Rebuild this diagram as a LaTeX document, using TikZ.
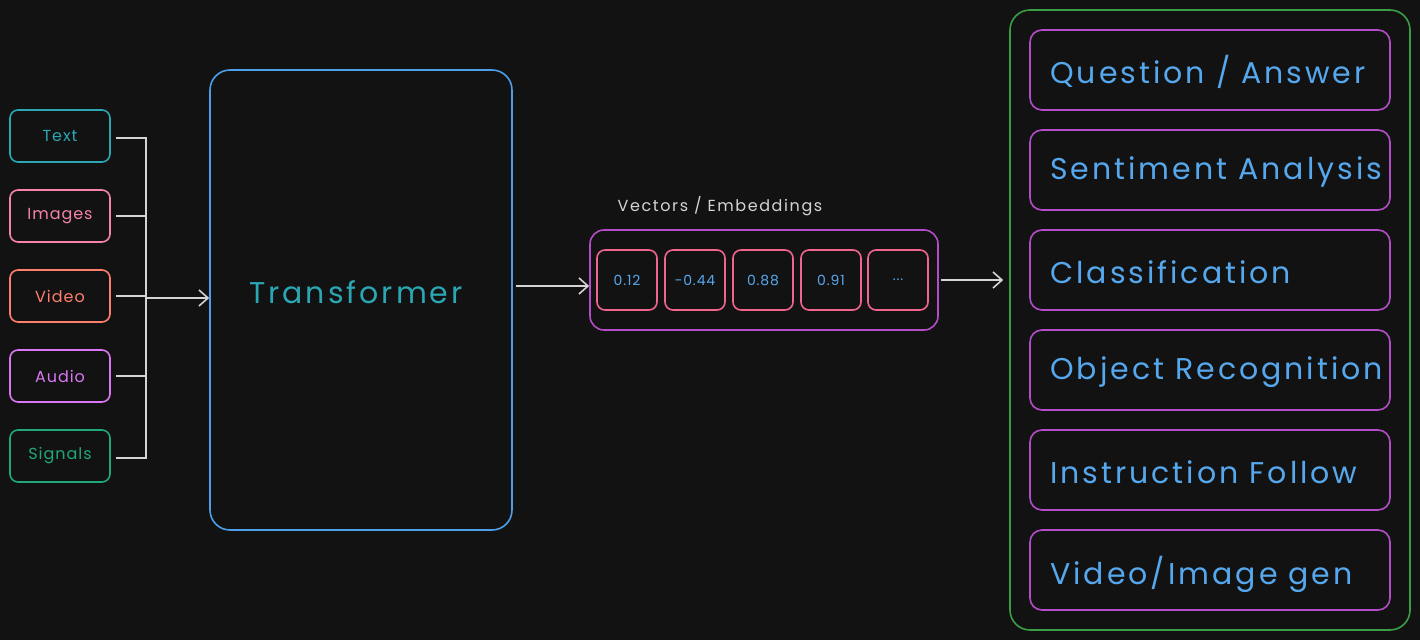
\documentclass[tikz,border=0pt]{standalone}
\usepackage{fontspec}
\setmainfont{Poppins}[LetterSpace=3]
\newfontfamily\widefont{Poppins}[LetterSpace=10]
\newfontfamily\midfont{Poppins}[LetterSpace=6]
\usetikzlibrary{arrows.meta}
\definecolor{bg}{HTML}{121212}
\definecolor{cteal}{HTML}{2AA7B3}
\definecolor{cpink}{HTML}{F783AC}
\definecolor{cred}{HTML}{FF7F6E}
\definecolor{cviolet}{HTML}{DA77F2}
\definecolor{cgreen}{HTML}{20A77A}
\definecolor{cblue}{HTML}{4A9FE8}
\definecolor{cpurple}{HTML}{B54CC8}
\definecolor{cvec}{HTML}{F0648E}
\definecolor{cframe}{HTML}{3A9E44}
\definecolor{cline}{HTML}{D4D4D4}
\definecolor{ctxt}{HTML}{56A8EE}
\tikzset{
  inbox/.style={draw, line width=1.6pt, rounded corners=8pt, minimum width=100pt, minimum height=52pt, inner sep=0pt, font=\midfont\fontsize{16}{18}\selectfont},
  vecbox/.style={draw=cvec, line width=1.6pt, rounded corners=8pt, minimum width=60pt, minimum height=60pt, inner sep=0pt, text=ctxt, font=\midfont\fontsize{14}{16}\selectfont},
  taskbox/.style={draw=cpurple, line width=1.6pt, rounded corners=12pt, minimum width=360pt, minimum height=80pt, inner sep=0pt},
  tasktext/.style={anchor=west, text=ctxt, inner sep=0pt, font=\widefont\fontsize{30}{34}\selectfont},
  conn/.style={draw=cline, line width=1.6pt},
  arr/.style={draw=cline, line width=1.6pt, -{Straight Barb[length=9pt,width=16pt,line width=1.6pt]}}
}
\begin{document}
\begin{tikzpicture}[x=1pt,y=-1pt]
\fill[bg] (0,0) rectangle (1420,640);
\useasboundingbox (0,0) rectangle (1420,640);
% inputs
\node[inbox, draw=cteal, text=cteal] (text) at (60,136) {Text};
\node[inbox, draw=cpink, text=cpink] (images) at (60,216) {Images};
\node[inbox, draw=cred, text=cred] (video) at (60,296) {Video};
\node[inbox, draw=cviolet, text=cviolet] (audio) at (60,376) {Audio};
\node[inbox, draw=cgreen, text=cgreen] (signals) at (60,456) {Signals};
% transformer
\node[draw=cblue, line width=1.6pt, rounded corners=20pt, minimum width=302pt, minimum height=460pt] (tr) at (361,300) {};
\node[text=cteal, font=\widefont\fontsize{30}{36}\selectfont] (trlabel) at (356,292) {Transformer};
% bus
\coordinate (bt) at (146,138);
\coordinate (bb) at (146,458);
\coordinate (bm) at (146,298);
\draw[conn] ([xshift=5pt]text.east |- bt) -- (bt) -- (bb) -- ([xshift=5pt]signals.east |- bb);
\draw[conn] ([xshift=5pt]images.east) -- (images.east -| bb);
\draw[conn] ([xshift=5pt]video.east) -- (video.east -| bb);
\draw[conn] ([xshift=5pt]audio.east) -- (audio.east -| bb);
\draw[arr] (bm) -- (tr.west |- bm);
% embeddings
\node[text=cline, font=\widefont\fontsize{16}{19}\selectfont] (veclabel) at (720,206) {Vectors / Embeddings};
\node[draw=cpurple, line width=1.6pt, rounded corners=14pt, minimum width=348pt, minimum height=100pt] (emb) at (764,280) {};
\node[vecbox] (v1) at (627,280) {0.12};
\node[vecbox] (v2) at (695,280) {-0.44};
\node[vecbox] (v3) at (763,280) {0.88};
\node[vecbox] (v4) at (831,280) {0.91};
\node[vecbox] (v5) at (898,280) {...};
\coordinate (trout) at (516,286);
\draw[arr] (trout) -- (emb.west |- trout);
% tasks
\node[draw=cframe, line width=1.6pt, rounded corners=20pt, minimum width=400pt, minimum height=620pt] (frame) at (1210,320) {};
\draw[arr] ([xshift=2pt]emb.east) -- ([xshift=-6pt]frame.west |- 0,280);
\node[taskbox] (t1) at (1210,70) {};
\node[taskbox] (t2) at (1210,170) {};
\node[taskbox] (t3) at (1210,270) {};
\node[taskbox] (t4) at (1210,370) {};
\node[taskbox] (t5) at (1210,470) {};
\node[taskbox] (t6) at (1210,570) {};
\node[tasktext] (l1) at (1050,72) {Question / Answer};
\node[tasktext] (l2) at (1050,172) {Sentiment Analysis};
\node[tasktext] (l3) at (1050,272) {Classification};
\node[tasktext] (l4) at (1050,372) {Object Recognition};
\node[tasktext] (l5) at (1050,472) {Instruction Follow};
\node[tasktext] (l6) at (1050,574) {Video/Image gen};
\end{tikzpicture}
\end{document}
